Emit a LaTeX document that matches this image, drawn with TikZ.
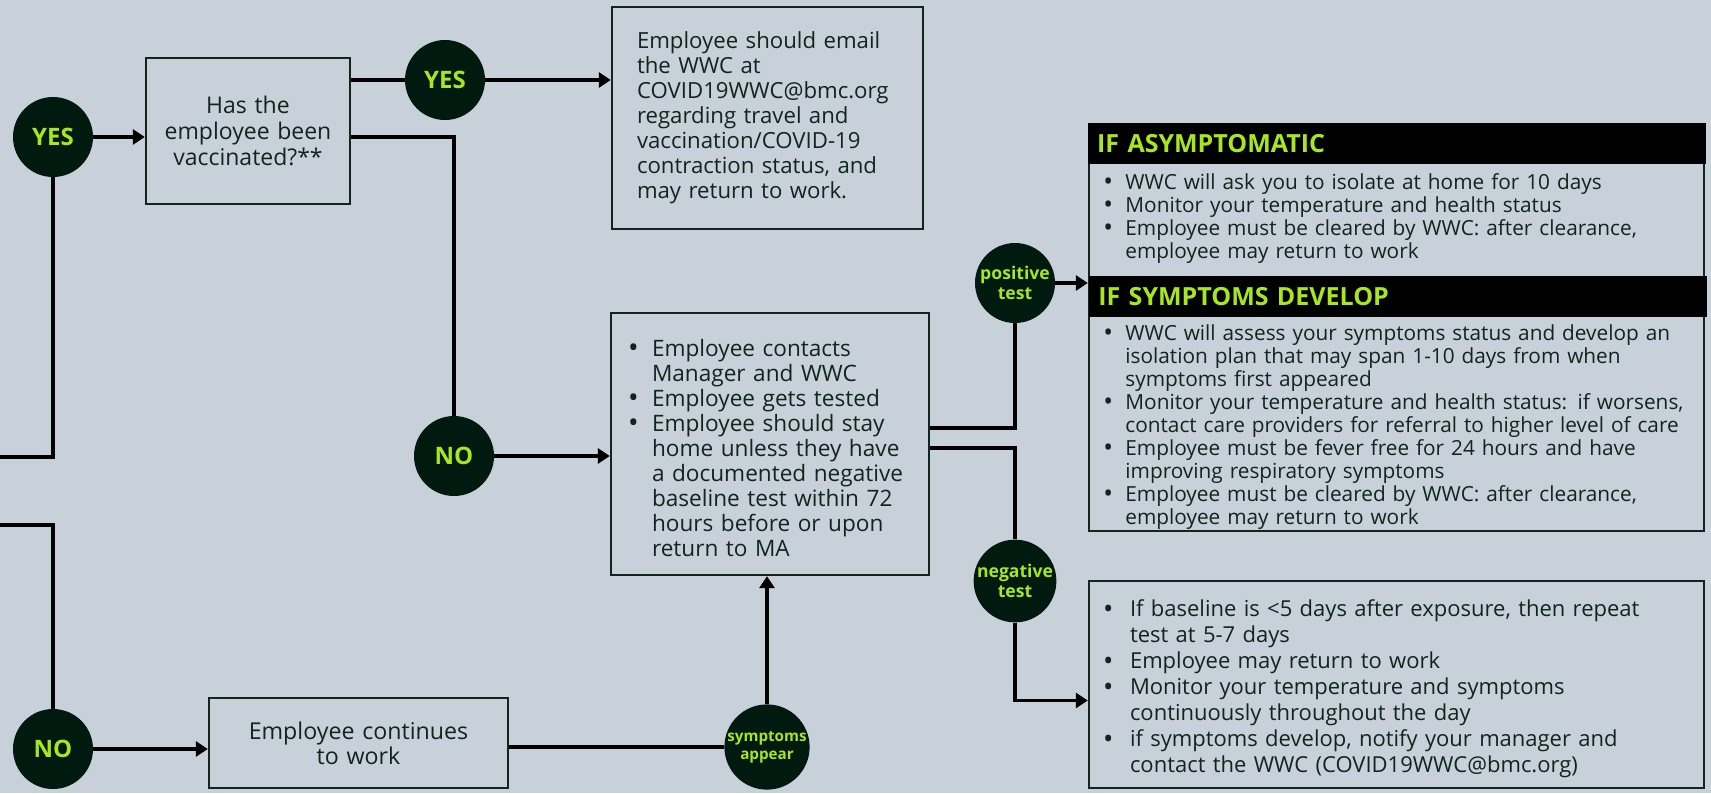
\documentclass[tikz,border=0pt]{standalone}
\usepackage{fontspec}
\setmainfont{Open Sans}
\usepackage{enumitem}
\usetikzlibrary{positioning,calc,arrows.meta}
\setlist[itemize]{nosep,label=\raisebox{-0.07em}{\scalebox{1.25}{\textbullet}},align=left,labelwidth=4pt,labelsep=*,leftmargin=12pt}
\definecolor{colorBG}{RGB}{200,208,217}
\definecolor{colorDOT}{RGB}{0,26,15}
\definecolor{colorLIME}{RGB}{168,230,30}
\definecolor{colorBOX}{RGB}{14,38,28}
\colorlet{colorTXT}{colorBOX}
\tikzset{
   every path/.style={>={Triangle[length=6pt,width=7.5pt]}},
   ln/.style={-,line width=1.9pt,black},
   ar/.style={->,line width=1.9pt,black},
   ans/.style={circle,fill=colorDOT,text=colorLIME,minimum size=40pt,inner sep=0pt,font=\bfseries\fontsize{12}{14}\selectfont},
   res/.style={circle,fill=colorDOT,text=colorLIME,minimum size=40pt,inner sep=0pt,align=center,font=\bfseries\fontsize{8.8}{10}\selectfont},
   bx/.style={rectangle,draw=colorBOX,line width=1.2pt,text=colorTXT,inner ysep=0pt},
   hdr/.style={rectangle,fill=black,text=colorLIME,anchor=north west,minimum height=20.5pt,text width=300pt,inner xsep=4.5pt,inner ysep=0pt,align=left,font=\bfseries\fontsize{12.5}{14}\selectfont},
   lst/.style={anchor=north west,inner sep=0pt,text=colorTXT,text width=298pt,align=left,font=\fontsize{10.4}{11.5}\selectfont},
}

\begin{document}
\begin{tikzpicture}[x=0.5pt,y=-0.5pt]
  \useasboundingbox (0,0) rectangle (1711,793);
  \fill[colorBG] (0,0) rectangle (1711,793);
  % answers and decisions
  \node[ans] (yes1) at (53,137) {YES};
  \node[ans] (no2) at (53,749) {NO};
  \coordinate (lin) at (0,457);
  \coordinate (lout) at (0,525);
  \node[bx,minimum width=102pt,minimum height=73pt,text width=94pt,align=center,font=\fontsize{11.5}{13}\selectfont] (vacc) at (248,131) {Has the\\ employee been\\ vaccinated?**};
  \node[ans] (yes2) at (445,80) {YES};
  \node[ans] (no1) at (454,456) {NO};
  \node[bx,minimum width=155.5pt,minimum height=111pt,inner xsep=12.5pt,text width=130.5pt,align=left,font=\fontsize{11.1}{12.5}\selectfont] (mail) at (767.5,118) {Employee should email\\ the WWC at\\ COVID19WWC@bmc.org\\ regarding travel and\\ vaccination/COVID-19\\ contraction status, and\\ may return to work.};
  \node[bx,minimum width=159pt,minimum height=131pt,inner xsep=8.5pt,text width=142pt,align=left,font=\fontsize{11.3}{12.5}\selectfont] (cont) at (770,444) {\begin{itemize}
    \item Employee contacts\\ Manager and WWC
    \item Employee gets tested
    \item Employee should stay\\ home unless they have\\ a documented negative\\ baseline test within 72\\ hours before or upon\\ return to MA
  \end{itemize}};
  \node[bx,minimum width=149.5pt,minimum height=45pt,text width=139pt,align=center,font=\fontsize{11.6}{12.5}\selectfont] (work) at (358.5,743) {Employee continues\\ to work};
  \node[res,font=\bfseries\fontsize{7.6}{9}\selectfont] (symp) at (767,747) {symptoms\\ appear};
  \node[res] (pos) at (1015,283) {positive\\ test};
  \node[res] (neg) at (1015,581) {negative\\ test};
  % outcome boxes
  \node[bx,minimum width=307.5pt,minimum height=203.5pt] (ifbox) at (1396.5,327.5) {};
  \node[hdr] (hasym) at (ifbox.north west) {IF ASYMPTOMATIC};
  \node[hdr] (hsym) at (1089,276) {IF SYMPTOMS DEVELOP};
  \node[lst] (lasym) at (1103,166) {\begin{itemize}[leftmargin=11pt]
    \item WWC will ask you to isolate at home for 10 days
    \item Monitor your temperature and health status
    \item Employee must be cleared by WWC: after clearance,\\ employee may return to work
  \end{itemize}};
  \node[lst] (lsym) at (1103,317) {\begin{itemize}[leftmargin=11pt]
    \item WWC will assess your symptoms status and develop an\\ isolation plan that may span 1-10 days from when\\ symptoms first appeared
    \item Monitor your temperature and health status: if worsens,\\ contact care providers for referral to higher level of care
    \item Employee must be fever free for 24 hours and have\\ improving respiratory symptoms
    \item Employee must be cleared by WWC: after clearance,\\ employee may return to work
  \end{itemize}};
  \node[bx,minimum width=307.5pt,minimum height=103.5pt,inner xsep=7pt,text width=293.5pt,align=left,font=\fontsize{11}{13}\selectfont] (nbox) at (1396.5,684.5) {\begin{itemize}[leftmargin=13.5pt]
    \item If baseline is <5 days after exposure, then repeat\\ test at 5-7 days
    \item Employee may return to work
    \item Monitor your temperature and symptoms\\ continuously throughout the day
    \item if symptoms develop, notify your manager and\\ contact the WWC (COVID19WWC@bmc.org)
  \end{itemize}};
  % connectors
  \draw[ar] (yes1) -- (yes1 -| vacc.west);
  \draw[ln] (vacc.east |- yes2) -- (yes2);
  \draw[ar] (yes2) -- (yes2 -| mail.west);
  \draw[ln] (vacc.east |- yes1) -| (no1);
  \draw[ar] (no1) -- (no1 -| cont.west);
  \draw[ln] (yes1) |- (lin);
  \draw[ln] (lout) -| (no2);
  \draw[ar] (no2) -- (no2 -| work.west);
  \draw[ln] (work.east |- symp) -- (symp);
  \draw[ar] (symp) -- (symp |- cont.south);
  \draw[ln] ($(cont.east)+(0,-16)$) -| (pos);
  \draw[ar] (pos) -- (pos -| ifbox.west);
  \draw[ln] ($(cont.east)+(0,4)$) -| (neg);
  \draw[ar] (neg) |- ($(nbox.west)+(0,16)$);
\end{tikzpicture}
\end{document}
